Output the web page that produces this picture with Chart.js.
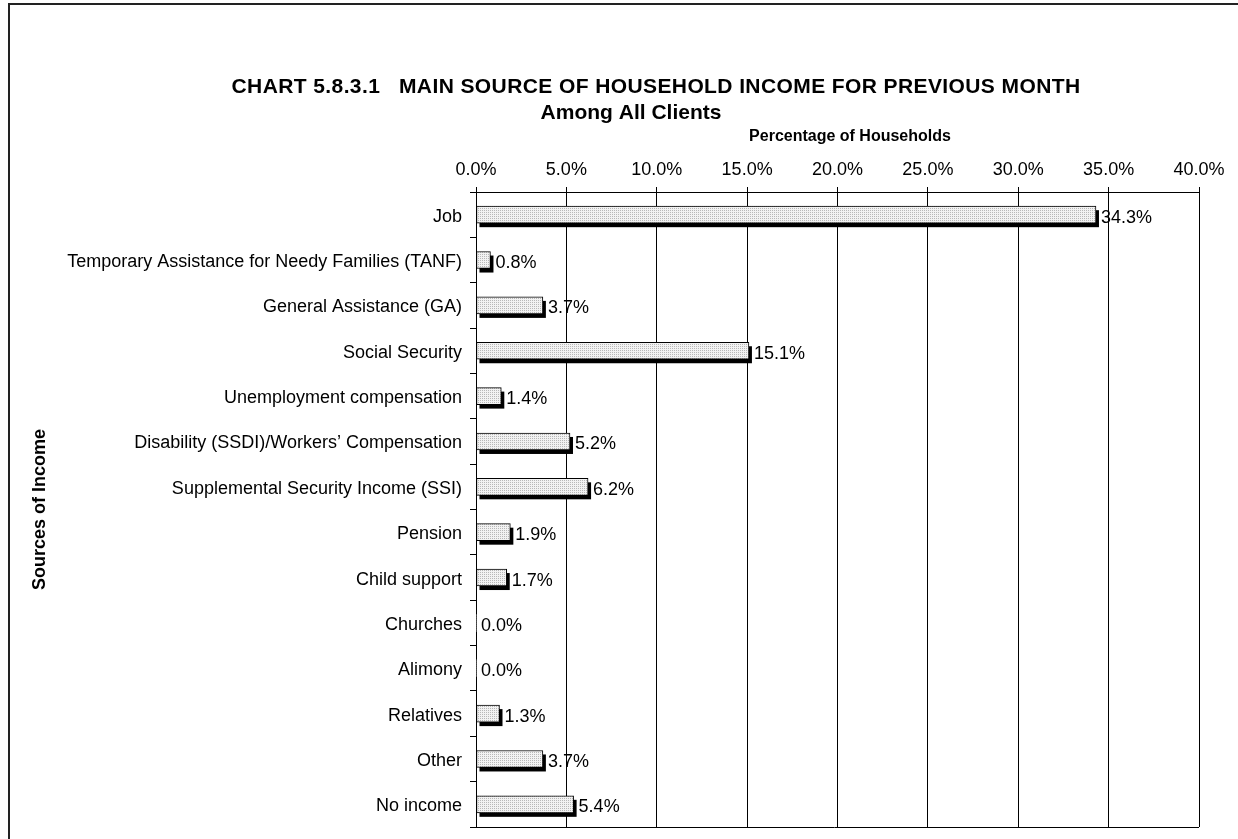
<!DOCTYPE html>
<html>
<head>
<meta charset="utf-8">
<script src="https://cdn.jsdelivr.net/npm/chart.js@4.4.0/dist/chart.umd.min.js"></script>
<style>
  body { margin: 0; background: #fff; }
  #wrap { position: relative; width: 1238px; height: 839px; }
</style>
</head>
<body>
<div id="wrap"><canvas id="incomeChart"></canvas></div>
<script>
const categories = [
  "Job",
  "Temporary Assistance for Needy Families (TANF)",
  "General Assistance (GA)",
  "Social Security",
  "Unemployment compensation",
  "Disability (SSDI)/Workers’ Compensation",
  "Supplemental Security Income (SSI)",
  "Pension",
  "Child support",
  "Churches",
  "Alimony",
  "Relatives",
  "Other",
  "No income"
];
const percentages = [34.3, 0.8, 3.7, 15.1, 1.4, 5.2, 6.2, 1.9, 1.7, 0.0, 0.0, 1.3, 3.7, 5.4];
const tickValues = [0, 5, 10, 15, 20, 25, 30, 35, 40];

const titleLines = [
  "CHART 5.8.3.1   MAIN SOURCE OF HOUSEHOLD INCOME FOR PREVIOUS MONTH",
  "Among All Clients"
];
const xTitle = "Percentage of Households";
const yTitle = "Sources of Income";

const FONT = "Arial, 'Liberation Sans', sans-serif";

// motif pointillé gris clair pour les barres
function dotPattern() {
  const c = document.createElement("canvas");
  c.width = 2; c.height = 2;
  const g = c.getContext("2d");
  g.fillStyle = "#f2f2f2"; g.fillRect(0, 0, 2, 2);
  g.fillStyle = "#b8b8b8"; g.fillRect(0, 0, 1, 1);
  return g.createPattern(c, "repeat");
}

// ombre noire décalée sous chaque barre
const barShadow = {
  id: "barShadow",
  beforeDatasetsDraw(chart) {
    const ctx = chart.ctx;
    const meta = chart.getDatasetMeta(0);
    ctx.save();
    ctx.fillStyle = "#000";
    meta.data.forEach((bar, i) => {
      if (!percentages[i]) return;
      const h = bar.height;
      ctx.fillRect(bar.base + 3, bar.y - h / 2 + 4, bar.x - bar.base, h);
    });
    ctx.restore();
  }
};

// étiquettes de valeur, titres et cadre
const extras = {
  id: "extras",
  afterDatasetsDraw(chart) {
    const ctx = chart.ctx;
    const meta = chart.getDatasetMeta(0);
    ctx.save();
    ctx.font = "18px " + FONT;
    ctx.fillStyle = "#000";
    ctx.textAlign = "left";
    ctx.textBaseline = "middle";
    meta.data.forEach((bar, i) => {
      ctx.fillText(percentages[i].toFixed(1) + "%", bar.x + 5, bar.y + 3);
    });
    ctx.restore();
  },
  afterDraw(chart) {
    const ctx = chart.ctx;
    const a = chart.chartArea;
    ctx.save();
    // bord inférieur de la zone de tracé
    ctx.strokeStyle = "#000";
    ctx.lineWidth = 1;
    ctx.beginPath();
    ctx.moveTo(a.left - 6, Math.round(a.bottom) + 0.5);
    ctx.lineTo(a.right, Math.round(a.bottom) + 0.5);
    ctx.stroke();
    // cadre extérieur
    ctx.strokeStyle = "#222";
    ctx.lineWidth = 2;
    ctx.strokeRect(9, 4, 1400, 1000);
    // titres
    ctx.fillStyle = "#000";
    ctx.textAlign = "center";
    ctx.textBaseline = "middle";
    ctx.font = "bold 21px " + FONT;
    ctx.letterSpacing = "0.4px";
    ctx.fillText(titleLines[0], 656, 87);
    ctx.letterSpacing = "0px";
    ctx.fillText(titleLines[1], 631, 113);
    ctx.font = "bold 16px " + FONT;
    ctx.fillText(xTitle, 850, 137);
    ctx.restore();
  }
};

new Chart(document.getElementById("incomeChart"), {
  type: "bar",
  data: {
    labels: categories,
    datasets: [{
      data: percentages,
      backgroundColor: dotPattern(),
      borderColor: "#000",
      borderWidth: ctx => (percentages[ctx.dataIndex] ? 1 : 0),
      borderSkipped: false,
      barThickness: 17
    }]
  },
  plugins: [barShadow, extras],
  options: {
    indexAxis: "y",
    responsive: true,
    maintainAspectRatio: false,
    animation: false,
    layout: { padding: { left: 20, top: 120, right: 39, bottom: 12 } },
    plugins: {
      legend: { display: false },
      tooltip: { enabled: false }
    },
    scales: {
      x: {
        position: "top",
        min: 0,
        max: 40,
        afterBuildTicks: s => { s.ticks = tickValues.map(v => ({ value: v })); },
        afterFit: s => { s.height = 72; },
        ticks: {
          color: "#000",
          font: { family: FONT, size: 18 },
          padding: 6,
          callback: v => v.toFixed(1) + "%"
        },
        grid: { color: "#000", lineWidth: 1, tickLength: 5 },
        border: { color: "#000", width: 1 }
      },
      y: {
        afterFit: s => { s.width = 456; s.paddingTop = 0; s.paddingBottom = 0; },
        ticks: {
          color: "#000",
          font: { family: FONT, size: 18 },
          padding: 8,
          labelOffset: 2
        },
        grid: { display: true, drawOnChartArea: false, color: "#000", tickLength: 6 },
        border: { color: "#000", width: 1 },
        title: {
          display: true,
          text: yTitle,
          color: "#000",
          font: { family: FONT, size: 18, weight: "bold" },
          padding: { top: 9, bottom: 0 }
        }
      }
    }
  }
});
</script>
</body>
</html>
